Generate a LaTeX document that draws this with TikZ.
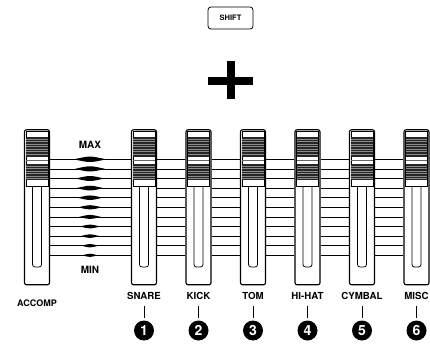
\documentclass[tikz,border=0pt]{standalone}
\usepackage{fontspec}
\setmainfont{TeX Gyre Heros}
\tikzset{
  fader/.style={draw, line width=1.1pt, rounded corners=2pt, minimum width=25pt, minimum height=155pt, inner sep=0pt},
  knob/.style={draw, fill=white, line width=0.8pt, minimum width=22pt, minimum height=54.5pt, inner sep=0pt},
  slot/.style={draw, line width=0.8pt, rounded corners=2.5pt, minimum width=9pt, minimum height=84pt, inner sep=0pt},
  lbl/.style={font=\fontsize{9.7}{9.7}\selectfont\bfseries, inner sep=0pt},
  num/.style={circle, fill=black, text=white, minimum size=20pt, inner sep=0pt, font=\fontsize{14}{14}\selectfont\bfseries},
}
\begin{document}
\begin{tikzpicture}[x=1pt, y=-1pt]
  \useasboundingbox (0,0) rectangle (430,349);
  % SHIFT button and plus
  \node[draw, line width=0.8pt, rounded corners=3pt, minimum width=45pt, minimum height=22pt,
        font=\fontsize{7.5}{7.5}\selectfont\bfseries] (shift) at (230.5,18) {SHIFT};
  \fill (208,76.5) rectangle (253,84.5);
  \fill (226.5,61) rectangle (234.5,99);
  % Faders with knobs
  \foreach \n/\x in {0/37, 1/144, 2/198.5, 3/253, 4/307.5, 5/362, 6/416.5}{
    \node[fader] (f\n) at (\x,207.25) {};
    \node[slot] (s\n) at (\x,225) {};
    \node[knob] (k\n) at (\x,158.75) {};
    \fill[black!85] (\x-10.6,136.5) rectangle (\x+10.6,156.5);
    \fill[black!85] (\x-10.6,163.5) rectangle (\x+10.6,180);
    \foreach \s in {139,141.5,...,155}
      \draw[black!45, line width=0.5pt] (\x-10.6,\s) -- (\x+10.6,\s);
    \foreach \s in {166,168.5,...,179}
      \draw[black!45, line width=0.5pt] (\x-10.6,\s) -- (\x+10.6,\s);
    \draw[black!60, line width=0.6pt] (\x-10.6,160) -- (\x+10.6,160);
  }
  % Level lines between faders
  \foreach \k in {0,...,10}{
    \pgfmathsetmacro\yy{159.3+9.6*\k}
    \foreach \a/\b in {0/1,1/2,2/3,3/4,4/5,5/6}
      \draw[line width=0.6pt] (f\a.east |- 0,\yy) -- (f\b.west |- 0,\yy);
  }
  % Scale marks
  \foreach \k in {0,...,10}{
    \pgfmathsetmacro\yy{159.3+9.6*\k}
    \pgfmathsetmacro\w{16-0.85*\k}
    \pgfmathsetmacro\h{3.6-0.15*\k}
    \fill (90-\w,\yy) .. controls (90,\yy-\h) .. (90+\w,\yy) .. controls (90,\yy+\h) .. (90-\w,\yy);
  }
  \node[lbl, font=\fontsize{10}{10}\selectfont\bfseries] (max) at (90,145) {MAX};
  \node[lbl, font=\fontsize{10}{10}\selectfont\bfseries] (min) at (90,270) {MIN};
  % Labels and numbers
  \node[lbl, font=\fontsize{9}{9}\selectfont\bfseries] (l0) at (f0 |- 0,303.3) {ACCOMP};
  \foreach \n/\t in {1/SNARE, 2/KICK, 3/TOM, 4/HI-HAT, 5/CYMBAL, 6/MISC}{
    \node[lbl] (l\n) at (f\n |- 0,296) {\t};
    \node[num] (c\n) at (f\n |- 0,330.5) {\n};
    \draw[line width=0.7pt, shorten <=6pt, shorten >=2.5pt] (l\n) -- (c\n);
  }
\end{tikzpicture}
\end{document}
